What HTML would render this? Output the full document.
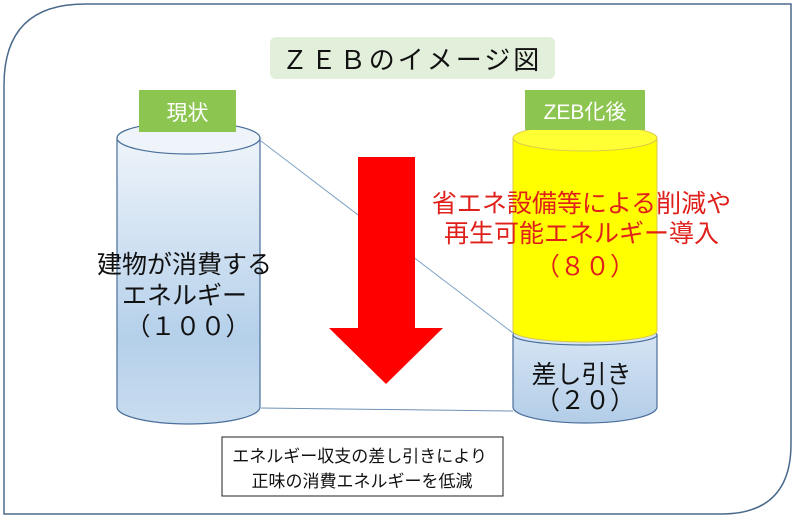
<!DOCTYPE html>
<html><head><meta charset="utf-8"><style>
html,body{margin:0;padding:0;background:#fff;}
svg{display:block;font-family:"Liberation Sans","Noto Sans CJK JP",sans-serif;}
</style></head><body>
<svg width="800" height="524" viewBox="0 0 800 524" xmlns="http://www.w3.org/2000/svg">
<defs>
<linearGradient id="bl" x1="0" y1="0" x2="0" y2="1">
<stop offset="0" stop-color="#eef4fa"/><stop offset="0.7" stop-color="#b5d0ea"/><stop offset="1" stop-color="#c9dcef"/>
</linearGradient>
<linearGradient id="bl2" x1="0" y1="0" x2="0" y2="1">
<stop offset="0" stop-color="#d5e4f3"/><stop offset="1" stop-color="#b3cde8"/>
</linearGradient>
</defs>
<rect width="800" height="524" fill="#fff"/>
<path d="M85 4 H791 V444 Q791 514 721 514 H4 V85 Q4 4 85 4 Z" fill="#fff" stroke="#4a6a8a" stroke-width="1.5"/>
<rect x="270" y="37" width="285" height="42" rx="6" fill="#e2efda"/>
<text x="412" y="69" font-size="26" text-anchor="middle" letter-spacing="3" fill="#111">ＺＥＢのイメージ図</text>
<line x1="261" y1="141" x2="513" y2="333" stroke="#7fa3c6" stroke-width="1"/>
<line x1="261" y1="408" x2="513" y2="411" stroke="#6f93b6" stroke-width="1"/>
<path d="M117 138 V407 A71.5 17 0 0 0 260 407 V138 Z" fill="url(#bl)" stroke="#4a6f9a" stroke-width="1.2"/>
<ellipse cx="188.5" cy="138" rx="71.5" ry="16" fill="#eef4fa" stroke="#4a6f9a" stroke-width="1.2"/>
<rect x="139" y="90" width="97" height="42" fill="#8dc551"/>
<text x="187.5" y="120" font-size="21" text-anchor="middle" fill="#fff">現状</text>
<text font-size="25" text-anchor="middle" fill="#111">
<tspan x="188" y="273">建物が消費する</tspan>
<tspan x="188" y="304">エネルギー</tspan>
<tspan x="188" y="335">（１００）</tspan>
</text>
<path d="M358 157 H415 V328 H443 L386 384 L329 328 H358 Z" fill="#ff0000"/>
<path d="M513 335 V407 A72 16 0 0 0 657 407 V335 Z" fill="url(#bl2)" stroke="#4a6f9a" stroke-width="1.2"/>
<ellipse cx="585" cy="335" rx="72" ry="10" fill="#d5e4f3" stroke="#4a6f9a" stroke-width="1.2"/>
<path d="M513 138 V331 A72 11 0 0 0 657 331 V138 Z" fill="#ffff00" stroke="#d9c84a" stroke-width="1"/>
<ellipse cx="585" cy="138" rx="72" ry="13" fill="#ffff33" stroke="#d9c84a" stroke-width="1"/>
<rect x="525" y="90" width="120" height="40" fill="#8dc551"/>
<text x="585" y="119" font-size="21" text-anchor="middle" fill="#fff">ZEB化後</text>
<text font-size="25" text-anchor="middle" fill="#e0201a">
<tspan x="585" y="212">省エネ設備等による削減や</tspan>
<tspan x="585" y="242">再生可能エネルギー導入</tspan>
<tspan x="585" y="275">（８０）</tspan>
</text>
<text font-size="25" text-anchor="middle" fill="#111">
<tspan x="585" y="383">差し引き</tspan>
<tspan x="585" y="409">（２０）</tspan>
</text>
<rect x="222" y="437" width="281" height="59" fill="#fff" stroke="#222" stroke-width="1"/>
<text font-size="17" text-anchor="middle" fill="#111">
<tspan x="362" y="462">エネルギー収支の差し引きにより</tspan>
<tspan x="362" y="487">正味の消費エネルギーを低減</tspan>
</text>
</svg>
</body></html>
